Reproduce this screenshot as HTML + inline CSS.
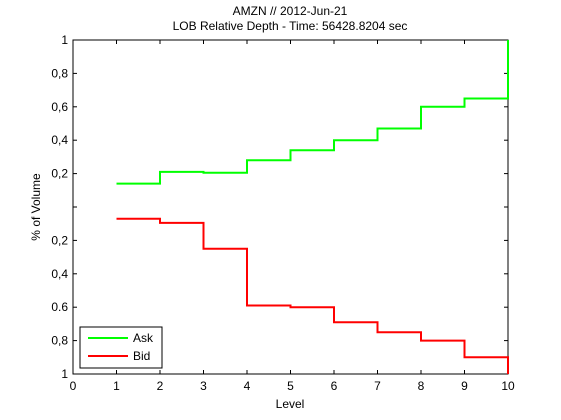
<!DOCTYPE html>
<html><head><meta charset="utf-8"><style>
body{margin:0;background:#fff}
svg{display:block;font-family:"Liberation Sans",sans-serif}
</style></head><body>
<svg id="c" width="561" height="420">
<text x="290" y="15" font-size="12" text-anchor="middle">AMZN // 2012-Jun-21</text>
<text x="290" y="30" font-size="12" text-anchor="middle">LOB Relative Depth - Time: 56428.8204 sec</text>
<rect x="73" y="40" width="435" height="334" fill="#fff" stroke="#000" stroke-width="1"/>
<g id="ticks"></g>
<g id="series"></g>
<text x="290" y="408" font-size="12" text-anchor="middle">Level</text>
<text transform="translate(40,207) rotate(-90)" font-size="12" text-anchor="middle">% of Volume</text>
<g>
<rect x="80" y="327" width="82" height="41" fill="#fff" stroke="#000"/>
<line x1="88" y1="338" x2="128" y2="338" stroke="#00ff00" stroke-width="2"/>
<text x="133" y="342" font-size="12">Ask</text>
<line x1="88" y1="356" x2="128" y2="356" stroke="#ff0000" stroke-width="2"/>
<text x="133" y="360" font-size="12">Bid</text>
</g>
</svg>
<script>
const levels=[1,2,3,4,5,6,7,8,9,10];
const askValues=[0.14,0.21,0.205,0.28,0.34,0.40,0.47,0.60,0.65,1.0];
const bidValues=[0.07,0.095,0.25,0.59,0.60,0.69,0.75,0.80,0.90,1.0];
const xTicks=[0,1,2,3,4,5,6,7,8,9,10];
const yTickVals=[1,0.8,0.6,0.4,0.2,0,-0.2,-0.4,-0.6,-0.8,-1];
const yTickLabels=["1","0,8","0,6","0,4","0,2","","0,2","0,4","0.6","0,8","1"];
const NS="http://www.w3.org/2000/svg";
const X0=73,X1=508,Y0=374,Y1=40;
const xs=v=>X0+(v-0)/(10-0)*(X1-X0);
const ys=v=>Y0-(v+1)/2*(Y0-Y1);
const tg=document.getElementById('ticks');
function mk(t,a,p){const e=document.createElementNS(NS,t);for(const k in a)e.setAttribute(k,a[k]);p.appendChild(e);return e;}
xTicks.forEach(v=>{
 const x=xs(v);
 const l1=mk('line',{x1:x,y1:Y0,x2:x,y2:Y0-4,stroke:'#000'},tg);
 
 
 mk('line',{x1:x,y1:Y1,x2:x,y2:Y1+4,stroke:'#000'},tg);
 const t=mk('text',{x:x,y:Y0+16,'font-size':12,'text-anchor':'middle'},tg);
 t.textContent=v;
 
 
});
yTickVals.forEach((v,i)=>{
 const y=ys(v);
 const l=mk('line',{x1:X0,y1:y,x2:X0+4,y2:y,stroke:'#000'},tg);
 
 
 mk('line',{x1:X1,y1:y,x2:X1-4,y2:y,stroke:'#000'},tg);
 const t=mk('text',{x:X0-5,y:y+4,'font-size':12,'text-anchor':'end'},tg);
 t.textContent=yTickLabels[i];
 
 
});
function stairs(vals,sign){
 let d='';
 for(let i=0;i<levels.length;i++){
  const x=xs(levels[i]),y=ys(sign*vals[i]);
  if(i===0)d+='M'+x+','+y;
  else d+=' L'+x+','+ys(sign*vals[i-1])+' L'+x+','+y;
  if(i<levels.length-1)d+=' L'+xs(levels[i+1])+','+y;
 }
 return d;
}
const sg=document.getElementById('series');
const a=mk('path',{d:stairs(askValues,1),fill:'none',stroke:'#00ff00','stroke-width':2},sg);


const b=mk('path',{d:stairs(bidValues,-1),fill:'none',stroke:'#ff0000','stroke-width':2},sg);


</script>
</body></html>
